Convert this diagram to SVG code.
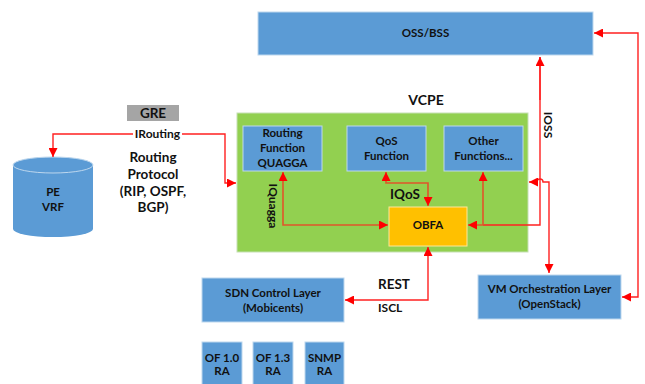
<svg xmlns="http://www.w3.org/2000/svg" width="645" height="384" viewBox="0 0 645 384">
<defs>
<marker id="ar" markerUnits="userSpaceOnUse" markerWidth="9" markerHeight="9" refX="8" refY="4" orient="auto-start-reverse" viewBox="0 0 8 8">
<path d="M0,0 L8,4 L0,8 z" fill="#FF0000"/>
</marker>
<style>
.box{fill:#5B9BD5;stroke:#BDD7EE;stroke-width:1}
.t{font-family:Lato,"Liberation Sans",sans-serif;font-weight:bold;fill:#111111;text-anchor:middle}
.s11{font-size:11.5px}
.s13{font-size:13.5px}
.red{fill:none;stroke:#FF2020;stroke-width:1.4}
.org{fill:none;stroke:#E0552A;stroke-width:1.6}
</style>
</defs>
<rect width="645" height="384" fill="#ffffff"/>

<g id="oss">
<rect class="box" x="258" y="12" width="335" height="43"/>
<text class="t s11" x="425.5" y="37">OSS/BSS</text>
</g>

<g id="vcpe">
<rect x="237" y="113" width="291" height="139" fill="#92D050" stroke="#C5E0B4" stroke-width="1"/>
<text class="t" style="font-size:14px" x="426" y="105">VCPE</text>
</g>

<g id="routing">
<rect class="box" x="243" y="126" width="79" height="45"/>
<text class="t s11" x="282.5" y="137">Routing</text>
<text class="t s11" x="282.5" y="152">Function</text>
<text class="t s11" x="282.5" y="167">QUAGGA</text>
</g>

<g id="qos">
<rect class="box" x="347" y="126" width="79" height="45"/>
<text class="t s11" x="386.5" y="145">QoS</text>
<text class="t s11" x="386.5" y="160">Function</text>
</g>

<g id="other">
<rect class="box" x="444" y="126" width="79" height="45"/>
<text class="t s11" x="483.5" y="145">Other</text>
<text class="t s11" x="483.5" y="160">Functions...</text>
</g>

<g id="obfa">
<rect x="389" y="207" width="78" height="39" fill="#FFC000" stroke="#FFE699" stroke-width="1"/>
<text class="t s11" x="428" y="229">OBFA</text>
</g>

<g id="pe">
<path d="M13,165 V229 A40,8 0 0 0 93,229 V165" fill="#5B9BD5"/>
<ellipse cx="53" cy="165" rx="40" ry="8" fill="#5B9BD5" stroke="#BDD7EE" stroke-width="1"/>
<text class="t s11" x="53" y="196">PE</text>
<text class="t s11" x="53" y="211">VRF</text>
</g>

<g id="gre">
<rect x="127" y="105" width="52" height="16" fill="#A5A5A5"/>
<text class="t s13" x="153" y="118">GRE</text>
</g>

<g id="sdn">
<rect class="box" x="202" y="278" width="142" height="44"/>
<text class="t s11" x="273" y="297">SDN Control Layer</text>
<text class="t s11" x="273" y="312">(Mobicents)</text>
</g>

<g id="vm">
<rect class="box" x="478" y="275" width="143" height="44"/>
<text class="t s11" x="549.5" y="293">VM Orchestration Layer</text>
<text class="t s11" x="549.5" y="308">(OpenStack)</text>
</g>

<g id="of10">
<rect class="box" x="202" y="342" width="40" height="46"/>
<text class="t s11" x="222" y="362">OF 1.0</text>
<text class="t s11" x="222" y="375">RA</text>
</g>
<g id="of13">
<rect class="box" x="253" y="342" width="40" height="46"/>
<text class="t s11" x="273" y="362">OF 1.3</text>
<text class="t s11" x="273" y="375">RA</text>
</g>
<g id="snmp">
<rect class="box" x="305" y="342" width="39" height="46"/>
<text class="t s11" x="324.5" y="362">SNMP</text>
<text class="t s11" x="324.5" y="375">RA</text>
</g>

<g id="connectors">
<path class="red" d="M53,157 V134 H225 V183 H236" marker-start="url(#ar)" marker-end="url(#ar)"/>
<path class="red" d="M622,297 H638 V33 H594" marker-start="url(#ar)" marker-end="url(#ar)"/>
<path class="red" d="M483,225 H540 V57"/>
<path class="red" d="M529,182 H537 A3,3 0 0 1 543,182 H549 V273" marker-start="url(#ar)" marker-end="url(#ar)"/>
<path class="red" d="M428,247 V300 H345" marker-start="url(#ar)" marker-end="url(#ar)"/>
<path class="org" d="M283,172 V225 H388" marker-start="url(#ar)" marker-end="url(#ar)"/>
<path class="org" d="M386,172 V183 H428 V206" marker-start="url(#ar)" marker-end="url(#ar)"/>
<path class="org" d="M483,172 V225 H468" marker-start="url(#ar)" marker-end="url(#ar)"/>
<path class="red" d="M540,100 V57" marker-end="url(#ar)"/>
<rect x="133" y="127" width="49" height="14" fill="#ffffff"/>
<text class="t" style="font-size:12px" x="157.5" y="138">IRouting</text>
<text class="t s13" x="153" y="162">Routing</text>
<text class="t s13" x="153" y="179">Protocol</text>
<text class="t s13" x="153" y="196">(RIP, OSPF,</text>
<text class="t s13" x="153" y="212">BGP)</text>
<text class="t s13" x="405" y="199">IQoS</text>
<text class="t" style="font-size:12px" transform="translate(269,206) rotate(90)">IQuagga</text>
<text class="t" style="font-size:12px" transform="translate(544,125) rotate(90)">IOSS</text>
<text class="t s13" x="378" y="289" style="text-anchor:start">REST</text>
<text class="t" style="font-size:12px;text-anchor:start" x="378" y="312">ISCL</text>
</g>
</svg>
